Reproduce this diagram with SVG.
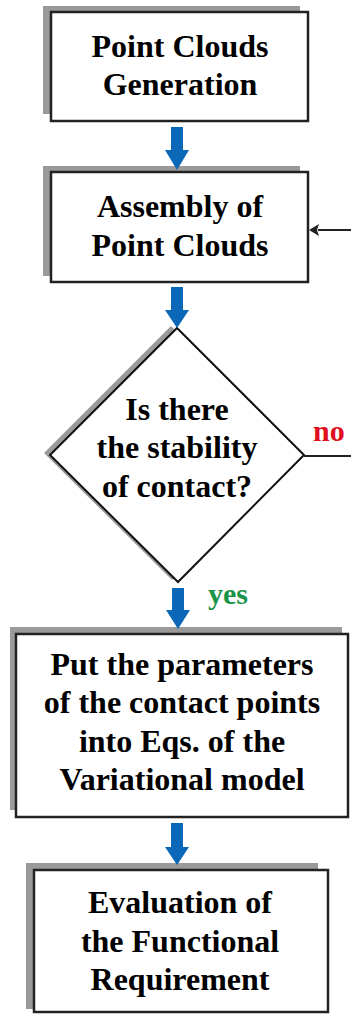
<svg xmlns="http://www.w3.org/2000/svg" width="351" height="1014" viewBox="0 0 351 1014">
<style>
.bg{fill:#ffffff}
.sh{fill:#9a9a9a}
.box{fill:#ffffff;stroke:#222222;stroke-width:2.5}
text{font-family:'Liberation Serif','Times New Roman','DejaVu Serif',serif;font-weight:bold}
.t{font-size:32px;fill:#000000;text-anchor:middle}
.blue{fill:#0b67b8}
.ln{stroke:#222222;stroke-width:2;fill:none}
.head{fill:#222222}
.no{font-size:30px;fill:#e01020}
.yes{font-size:30px;fill:#1a9448}
</style>
<rect class="bg" x="0" y="0" width="351" height="1014"/>

<g id="node-generation">
<rect class="sh" x="43" y="6" width="257" height="108"/>
<rect class="box" x="51" y="12" width="257" height="109"/>
<text class="t" x="180" y="57">Point Clouds</text>
<text class="t" x="180" y="95">Generation</text>
</g>

<g id="node-assembly">
<rect class="sh" x="43" y="166" width="257" height="110"/>
<rect class="box" x="51" y="172" width="257" height="110"/>
<text class="t" x="180" y="217">Assembly of</text>
<text class="t" x="180" y="256">Point Clouds</text>
</g>

<g id="node-decision">
<polygon class="sh" points="171,326 297,453 172,580 44,453"/>
<polygon points="177,328 304,455 178,582 50,455" fill="#ffffff" stroke="#111111" stroke-width="2"/>
<text class="t" x="177" y="420">Is there</text>
<text class="t" x="177" y="458">the stability</text>
<text class="t" x="177" y="497">of contact?</text>
</g>

<g id="node-put">
<rect class="sh" x="10" y="627" width="332" height="183"/>
<rect class="box" x="16" y="634" width="332" height="183"/>
<text class="t" x="182" y="675">Put the parameters</text>
<text class="t" x="182" y="713">of the contact points</text>
<text class="t" x="182" y="752">into Eqs. of the</text>
<text class="t" x="182" y="790">Variational model</text>
</g>

<g id="node-evaluation">
<rect class="sh" x="26" y="863" width="292" height="146"/>
<rect class="box" x="34" y="870" width="294" height="142"/>
<text class="t" x="180" y="913">Evaluation of</text>
<text class="t" x="180" y="952">the Functional</text>
<text class="t" x="180" y="990">Requirement</text>
</g>

<g id="connectors">
<polygon class="blue" points="171,127 183,127 183,150 189,150 177,170 165,150 171,150"/>
<polygon class="blue" points="171,287 183,287 183,310 189,310 177,328 165,310 171,310"/>
<polygon class="blue" points="172,588 184,588 184,610 190,610 178,629 166,610 172,610"/>
<polygon class="blue" points="171,823 183,823 183,847 189,847 177,865 165,847 171,847"/>
<line class="ln" x1="351" y1="230" x2="318" y2="230"/>
<polygon class="head" points="309,230 319,224 317,230 319,236"/>
<line class="ln" x1="304" y1="456" x2="351" y2="456"/>
<text class="no" x="313" y="441">no</text>
<text class="yes" x="208" y="604">yes</text>
</g>
</svg>
